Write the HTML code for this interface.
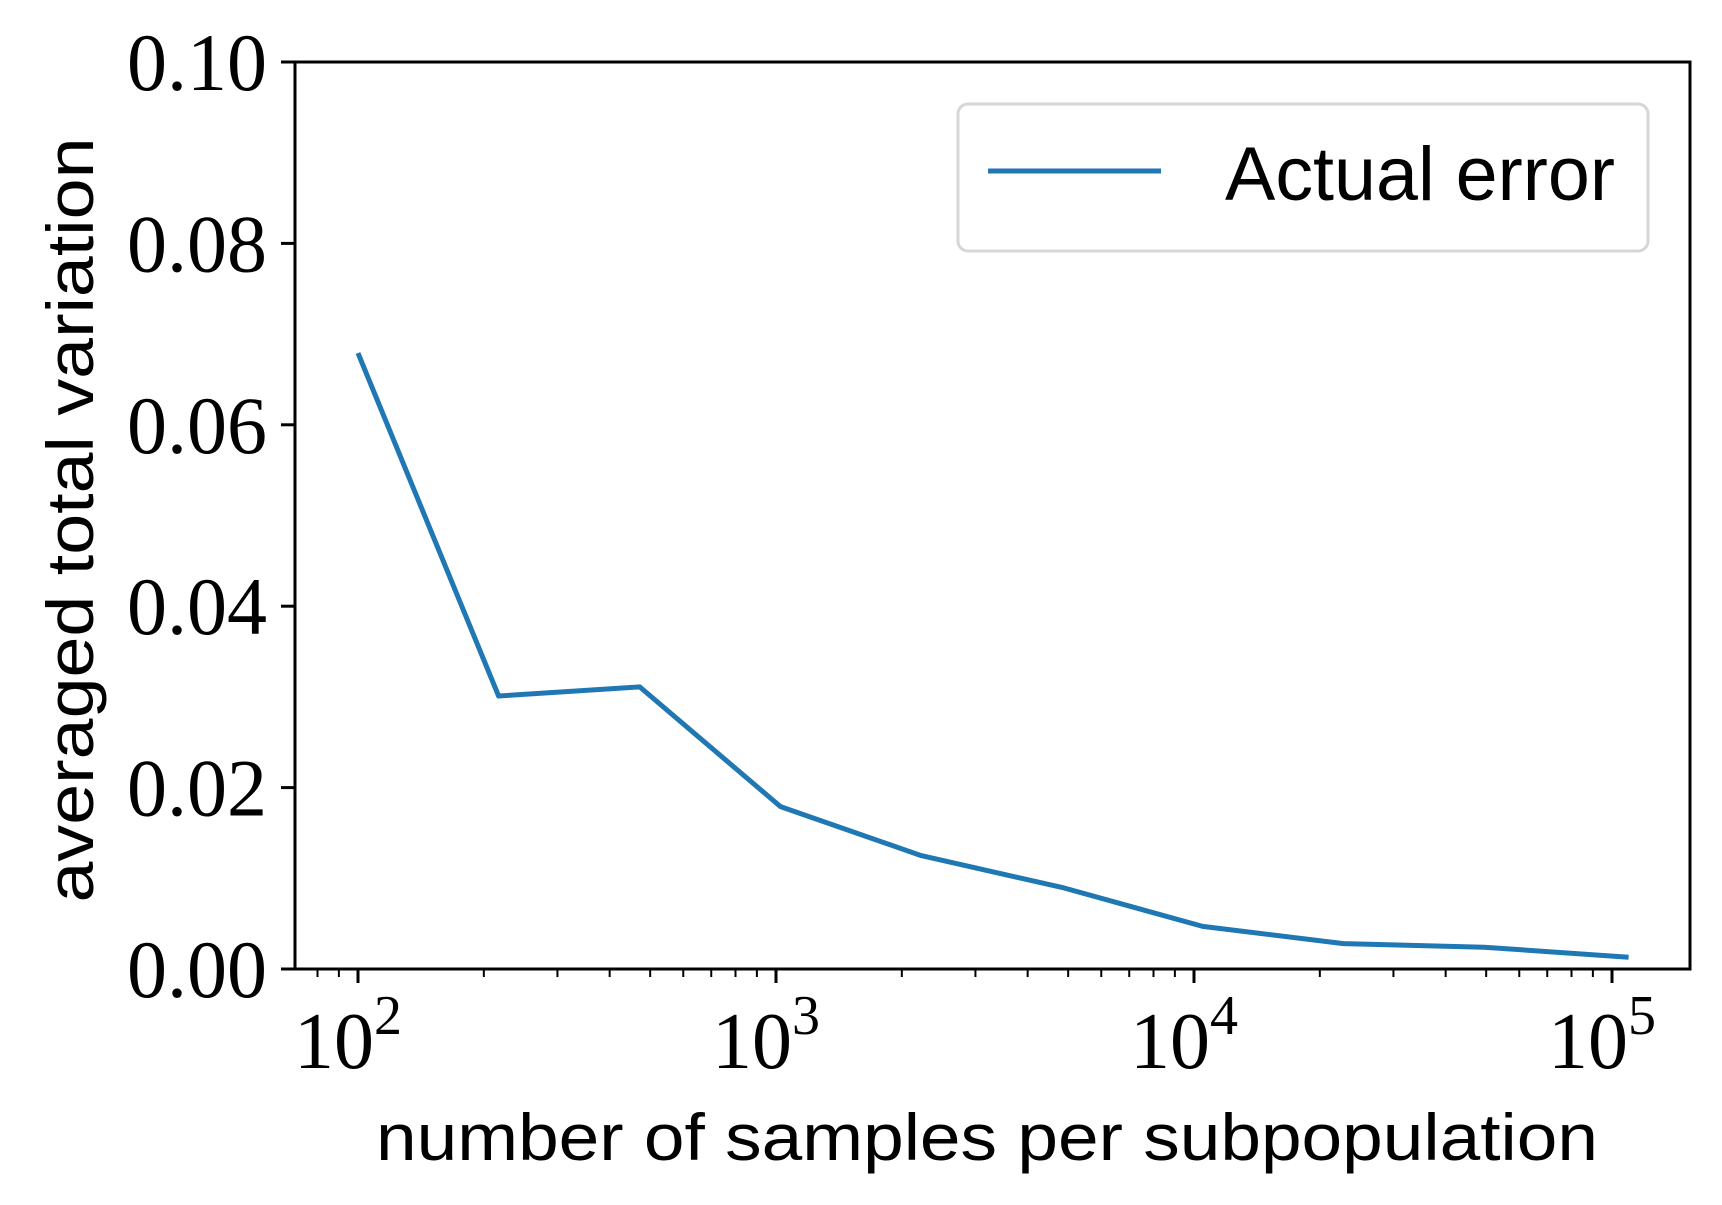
<!DOCTYPE html>
<html><head><meta charset="utf-8"><style>
html,body{margin:0;padding:0;background:#fff;}
svg{display:block;}
</style></head><body>
<svg id="chart" width="1722" height="1205" viewBox="0 0 1722 1205" xmlns="http://www.w3.org/2000/svg">
<rect x="0" y="0" width="1722" height="1205" fill="#fff"/>
<g id="plot"></g>
</svg>
<script>
const xValues = [100, 217, 472, 1025, 2225, 4830, 10490, 22770, 49430, 109600];
const yValues = [0.0679, 0.0301, 0.0311, 0.0179, 0.0125, 0.0090, 0.0047, 0.0028, 0.0024, 0.0013];
const yTicks = [0, 0.02, 0.04, 0.06, 0.08, 0.10];
const yTickLabels = ["0.00", "0.02", "0.04", "0.06", "0.08", "0.10"];
const xTickExps = [2, 3, 4, 5];
const seriesName = "Actual error";

const NS = "http://www.w3.org/2000/svg";
const L = 295, R = 1690, T = 62, B = 969;
const X0 = 358, DEC = 418;
function xs(v){ return X0 + (Math.log10(v) - 2) * DEC; }
function ys(v){ return B - (v / 0.1) * (B - T); }
const g = document.getElementById('plot');
function el(tag, attrs, parent){
  const e = document.createElementNS(NS, tag);
  for (const k in attrs) e.setAttribute(k, attrs[k]);
  (parent || g).appendChild(e);
  return e;
}

const pts = xValues.map((x,i)=> xs(x).toFixed(1) + ',' + ys(yValues[i]).toFixed(1)).join(' ');
const line = el('polyline', {points: pts, fill: 'none', stroke: '#1f77b4', 'stroke-width': 5, 'stroke-linejoin': 'round'});



const box = el('rect', {x: L, y: T, width: R - L, height: B - T, fill: 'none', stroke: '#000', 'stroke-width': 3});



yTicks.forEach((v,i)=>{
  const y = ys(v);
  const t = el('line', {x1: L - 14, x2: L, y1: y, y2: y, stroke: '#000', 'stroke-width': 3});
  
  
  const lb = el('text', {x: L - 28, y: y + 28, 'text-anchor': 'end', 'font-family': '"Liberation Serif", serif', 'font-size': 82, fill: '#000', textLength: 140, lengthAdjust: 'spacingAndGlyphs'});
  lb.textContent = yTickLabels[i];
  
  
});

xTickExps.forEach(e=>{
  const x = xs(Math.pow(10, e));
  const t = el('line', {x1: x, x2: x, y1: B, y2: B + 14, stroke: '#000', 'stroke-width': 3});
  
  
  const lb = el('text', {x: x - 10, y: 1068, 'text-anchor': 'middle', 'font-family': '"Liberation Serif", serif', 'font-size': 80, fill: '#000'});
  
  
  const base = document.createElementNS(NS, 'tspan'); base.textContent = '10'; lb.appendChild(base);
  const sup = document.createElementNS(NS, 'tspan'); sup.setAttribute('dy', -34); sup.setAttribute('font-size', 56); sup.textContent = String(e); lb.appendChild(sup);
});
for (let e = 1; e <= 5; e++){
  for (let m = 2; m <= 9; m++){
    const v = m * Math.pow(10, e);
    const x = xs(v);
    if (x < L || x > R) continue;
    const t = el('line', {x1: x, x2: x, y1: B, y2: B + 8, stroke: '#000', 'stroke-width': 2});
    
    
  }
}

const xt = el('text', {x: 987, y: 1160, 'text-anchor': 'middle', 'font-family': '"Liberation Sans", sans-serif', 'font-size': 66, fill: '#000', textLength: 1222, lengthAdjust: 'spacingAndGlyphs'});
xt.textContent = 'number of samples per subpopulation';


const yt = el('text', {x: 0, y: 0, 'text-anchor': 'middle', 'font-family': '"Liberation Sans", sans-serif', 'font-size': 66, fill: '#000', textLength: 765, lengthAdjust: 'spacingAndGlyphs', transform: 'translate(93,520) rotate(-90)'});
yt.textContent = 'averaged total variation';



const lg = el('g', {});


const lr = el('rect', {x: 958, y: 104, width: 690, height: 147, rx: 10, fill: '#fff', stroke: '#d6d6d6', 'stroke-width': 3}, lg);


const ll = el('line', {x1: 988, x2: 1161, y1: 171, y2: 171, stroke: '#1f77b4', 'stroke-width': 5}, lg);


const lt = el('text', {x: 1225, y: 200, 'font-family': '"Liberation Sans", sans-serif', 'font-size': 76, fill: '#000', textLength: 390, lengthAdjust: 'spacingAndGlyphs'}, lg);
lt.textContent = seriesName;


</script>
</body></html>
